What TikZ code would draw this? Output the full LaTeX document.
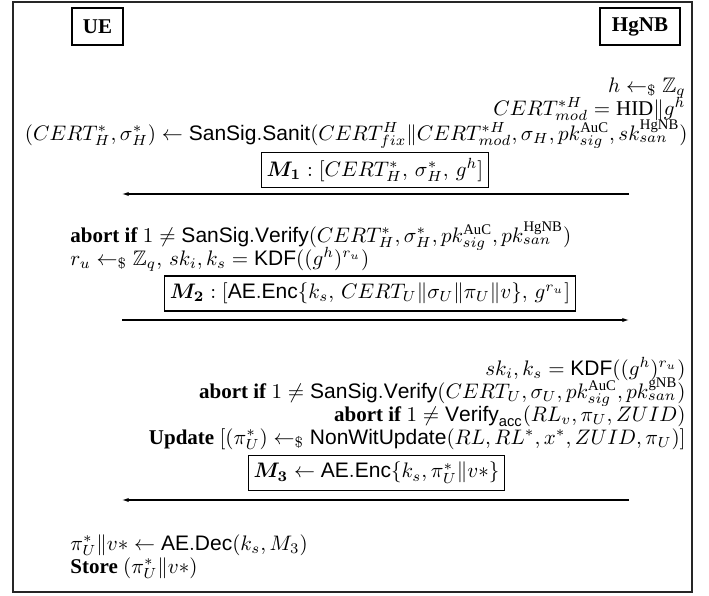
\documentclass[tikz,border=0pt]{standalone}
\usepackage{amsmath,amssymb}
\usepackage{fontspec}
\setmainfont{Liberation Serif}
\setsansfont{Liberation Sans}
\usetikzlibrary{arrows.meta}
\newcommand{\rnd}{\mathrel{\leftarrow_{\$}}}
\begin{document}
\begin{tikzpicture}[x=0.476pt,y=-0.476pt,
  party/.style={draw,line width=0.5pt,inner sep=0pt,minimum height=37*0.476pt,font=\bfseries},
  msgbox/.style={draw,line width=0.5pt,inner sep=2.5pt,minimum height=35*0.476pt},
  txtl/.style={anchor=base west,inner sep=0pt},
  txtr/.style={anchor=base east,inner sep=0pt},
  msg/.style={line width=0.5pt,-{Latex[length=3.2pt,width=2pt]}}]
\useasboundingbox (0,0) rectangle (709,595);
\node[draw,line width=0.8pt,black!85,minimum width=679*0.476pt,minimum height=590*0.476pt,inner sep=0pt] (frame) at (352.5,297) {};
\node[party,minimum width=51*0.476pt] (ue) at (97.5,26.5) {UE};
\node[party,minimum width=80*0.476pt] (hg) at (640,26.5) {HgNB};

\node[txtr] (l1) at (686,92) {$h \rnd \mathbb{Z}_q$};
\node[txtr] (l2) at (686,115) {$CERT^{*H}_{mod} = \mathrm{HID}\|g^h$};
\node[txtr] (l3) at (688,140) {$(CERT^*_H,\sigma^*_H)\leftarrow \mathsf{SanSig.Sanit}(CERT^H_{fix}\|CERT^{*H}_{mod},\sigma_H, pk^{\mathrm{AuC}}_{sig}, sk^{\mathrm{HgNB}}_{san})$};
\node[msgbox] (m1) at (375,170) {$\boldsymbol{M_1}:[CERT^*_H,\,\sigma^*_H,\,g^h]$};
\coordinate (a1s) at (629,194);
\coordinate (a1e) at (122,194);
\draw[msg] (a1s) -- (a1e);

\node[txtl] (l4) at (70,242) {\textbf{abort if} $1\neq \mathsf{SanSig.Verify}(CERT^*_H,\sigma^*_H,pk^{\mathrm{AuC}}_{sig},pk^{\mathrm{HgNB}}_{san})$};
\node[txtl] (l5) at (70,265) {$r_u \rnd \mathbb{Z}_q,\, sk_i, k_s = \mathsf{KDF}((g^h)^{r_u})$};
\node[msgbox] (m2) at (370,293.5) {$\boldsymbol{M_2}:[\mathsf{AE.Enc}\{k_s,\,CERT_U\|\sigma_U\|\pi_U\|v\},\,g^{r_u}]$};
\coordinate (a2s) at (122,320);
\coordinate (a2e) at (629,320);
\draw[msg] (a2s) -- (a2e);

\node[txtr] (l6) at (686,375) {$sk_i, k_s = \mathsf{KDF}((g^h)^{r_u})$};
\node[txtr] (l7) at (686,398) {\textbf{abort if} $1\neq \mathsf{SanSig.Verify}(CERT_U,\sigma_U,pk^{\mathrm{AuC}}_{sig},pk^{\mathrm{gNB}}_{san})$};
\node[txtr] (l8) at (686,421) {\textbf{abort if} $1\neq \mathsf{Verify}_{\mathsf{acc}}(RL_v,\pi_U,ZUID)$};
\node[txtr] (l9) at (686,444) {\textbf{Update} $[(\pi^*_U)\rnd \mathsf{NonWitUpdate}(RL,RL^*,x^*,ZUID,\pi_U)]$};
\node[msgbox] (m3) at (376.5,473) {$\boldsymbol{M_3}\leftarrow \mathsf{AE.Enc}\{k_s,\pi^*_U\|v*\}$};
\coordinate (a3s) at (629,500);
\coordinate (a3e) at (122,500);
\draw[msg] (a3s) -- (a3e);

\node[txtl] (l10) at (70,550) {$\pi^*_U\|v* \leftarrow \mathsf{AE.Dec}(k_s,M_3)$};
\node[txtl] (l11) at (70,573) {\textbf{Store} $(\pi^*_U\|v*)$};
\end{tikzpicture}
\end{document}
